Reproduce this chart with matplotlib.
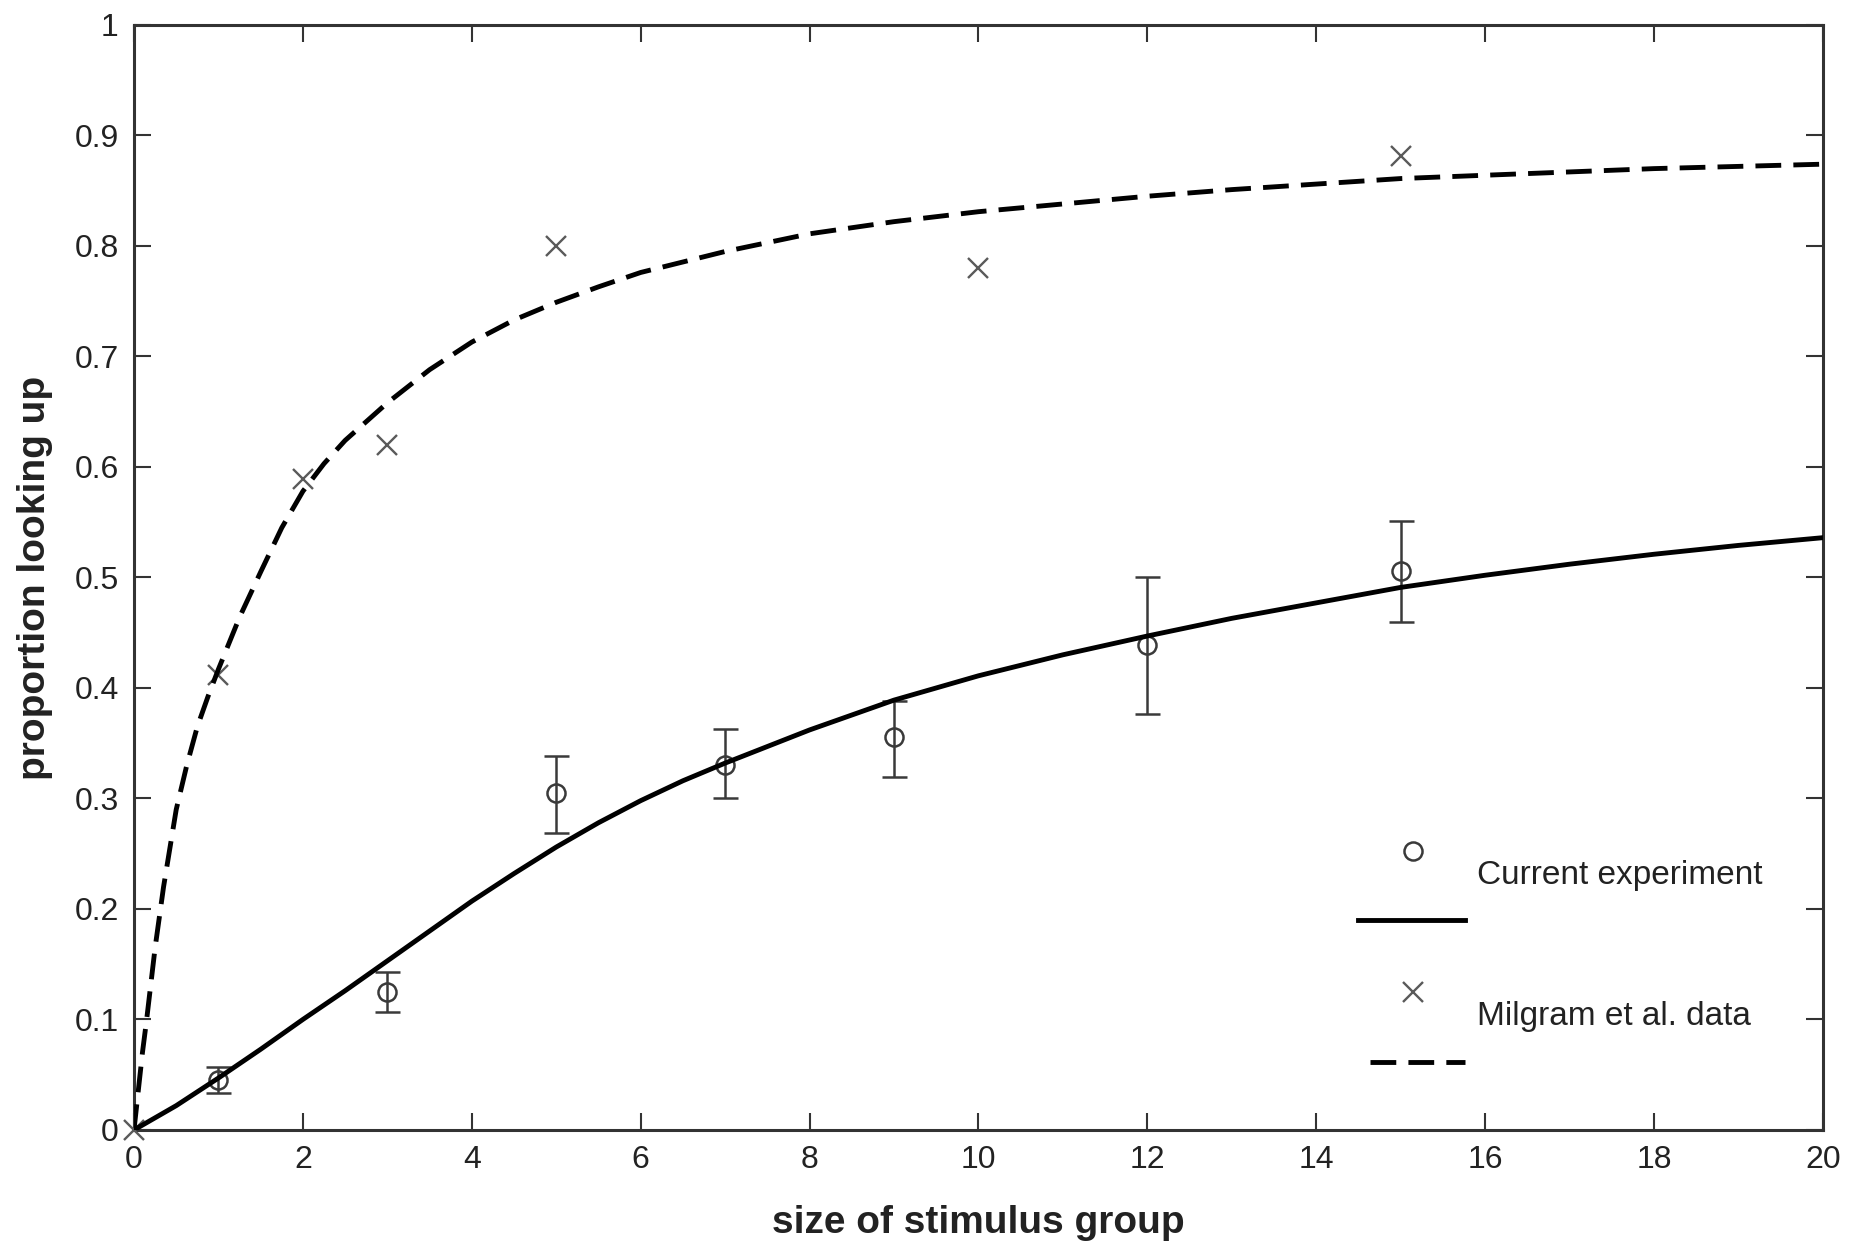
import matplotlib
matplotlib.use('Agg')
import matplotlib.pyplot as plt

plt.rcParams['font.family'] = ['Liberation Sans', 'DejaVu Sans']

# ---- data ----
exp_x = [1, 3, 5, 7, 9, 12, 15]
exp_y = [0.045, 0.125, 0.305, 0.330, 0.356, 0.439, 0.506]
exp_lo = [0.033, 0.107, 0.269, 0.300, 0.319, 0.376, 0.460]
exp_hi = [0.057, 0.143, 0.338, 0.363, 0.388, 0.500, 0.551]

mil_x = [0, 1, 2, 3, 5, 10, 15]
mil_y = [0.0, 0.412, 0.589, 0.620, 0.800, 0.780, 0.881]

cur_fit_x = [0, 0.5, 1, 1.5, 2, 2.5, 3, 3.5, 4, 4.5, 5, 5.5, 6, 6.5, 7, 8,
             9, 10, 11, 12, 13, 14, 15, 16, 17, 18, 19, 20]
cur_fit_y = [0.0, 0.022, 0.047, 0.073, 0.100, 0.126, 0.153, 0.180, 0.207,
             0.232, 0.256, 0.278, 0.298, 0.316, 0.332, 0.362, 0.389, 0.411,
             0.430, 0.447, 0.463, 0.477, 0.491, 0.502, 0.512, 0.521, 0.529,
             0.536]

mil_fit_x = [0, 0.05, 0.1, 0.15, 0.25, 0.35, 0.5, 0.625, 0.75, 0.875, 1,
             1.25, 1.5, 1.75, 2, 2.25, 2.5, 3, 3.5, 4, 4.5, 5, 5.5, 6, 7, 8,
             9, 10, 11, 12, 13, 14, 15, 16, 17, 18, 19, 20]
mil_fit_y = [0.0, 0.035, 0.07, 0.10, 0.165, 0.22, 0.29, 0.33, 0.365, 0.392,
             0.417, 0.464, 0.505, 0.545, 0.578, 0.603, 0.624, 0.658, 0.688,
             0.713, 0.733, 0.749, 0.763, 0.776, 0.795, 0.811, 0.822, 0.831,
             0.838, 0.845, 0.851, 0.856, 0.861, 0.864, 0.867, 0.870, 0.872,
             0.874]

x_ticks = [0, 2, 4, 6, 8, 10, 12, 14, 16, 18, 20]
y_ticks = [0, 0.1, 0.2, 0.3, 0.4, 0.5, 0.6, 0.7, 0.8, 0.9, 1.0]
y_tick_labels = ['0', '0.1', '0.2', '0.3', '0.4', '0.5', '0.6', '0.7', '0.8', '0.9', '1']

legend_labels = ['Current experiment', 'Milgram et al. data']

# ---- figure ----
fig = plt.figure(figsize=(18.56, 12.48), dpi=100)
ax = fig.add_axes([0.0722, 0.0946, 0.910, 0.8854])

spine_c = '#333333'
txt_c = '#222222'
dash = (5.3, 2.5)

# error bars + circles
yerr = [[y - lo for y, lo in zip(exp_y, exp_lo)],
        [hi - y for y, hi in zip(exp_y, exp_hi)]]
ax.errorbar(exp_x, exp_y, yerr=yerr, fmt='o', ms=13, mfc='none',
            mec='#3a3a3a', mew=1.8, ecolor='#3a3a3a', elinewidth=1.8,
            capsize=9, capthick=1.8, zorder=2)

# Milgram crosses
ax.plot(mil_x, mil_y, 'x', ms=15, color='#5a5a5a', mew=1.7,
        clip_on=False, zorder=3)

# fitted curves
ax.plot(cur_fit_x, cur_fit_y, '-', color='black', lw=3.5, zorder=4)
ax.plot(mil_fit_x, mil_fit_y, '--', color='black', lw=3.5,
        dashes=dash, zorder=4)

# manual MATLAB-style legend
ax.plot([0.757], [0.252], 'o', ms=13, mfc='none', mec='#3a3a3a', mew=1.8,
        transform=ax.transAxes)
ax.plot([0.725, 0.788], [0.190, 0.190], '-', color='black', lw=3.5,
        transform=ax.transAxes)
ax.text(0.795, 0.230, legend_labels[0], transform=ax.transAxes,
        fontsize=24, color=txt_c, va='center', ha='left')
ax.plot([0.757], [0.125], 'x', ms=15, color='#5a5a5a', mew=1.7,
        transform=ax.transAxes)
ax.plot([0.732, 0.788], [0.0615, 0.0615], '--', color='black', lw=3.5,
        dashes=dash, transform=ax.transAxes)
ax.text(0.795, 0.103, legend_labels[1], transform=ax.transAxes,
        fontsize=24, color=txt_c, va='center', ha='left')

# axes styling
ax.set_xlim(0, 20)
ax.set_ylim(0, 1)
ax.set_xticks(x_ticks)
ax.set_xticklabels([str(v) for v in x_ticks])
ax.set_yticks(y_ticks)
ax.set_yticklabels(y_tick_labels)
ax.tick_params(direction='in', top=True, right=True, length=12, width=1.5,
               colors=spine_c, labelcolor=txt_c, labelsize=23)
ax.tick_params(axis='y', pad=11)
ax.tick_params(axis='x', pad=11)
for s in ax.spines.values():
    s.set_linewidth(2.2)
    s.set_color(spine_c)

ax.set_xlabel('size of stimulus group', fontsize=28, fontweight='bold',
              color=txt_c)
ax.set_ylabel('proportion looking up', fontsize=28, fontweight='bold',
              color=txt_c)
ax.xaxis.set_label_coords(0.5, -0.068)
ax.yaxis.set_label_coords(-0.048, 0.5)

fig.savefig('out.png', dpi=100)
